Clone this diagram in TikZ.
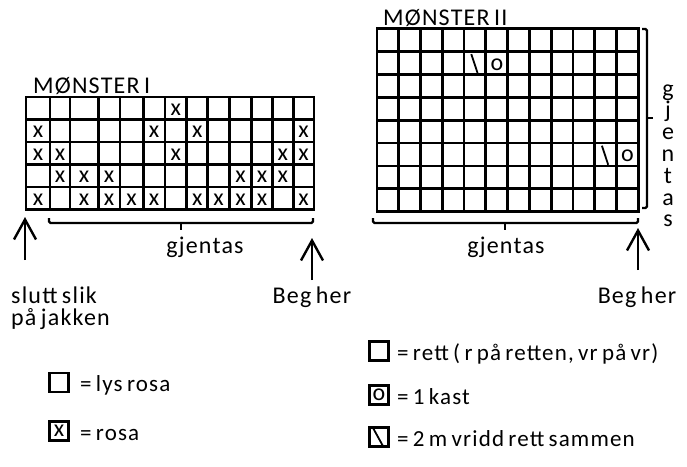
\documentclass[tikz,border=0pt]{standalone}
\usepackage{fontspec}
\setmainfont{Carlito}[LetterSpace=5,WordSpace=0.68]
\usetikzlibrary{arrows.meta}
\begin{document}
\begin{tikzpicture}[x=1pt,y=-1pt,
  every node/.style={font=\fontsize{24}{26}\selectfont, inner sep=0pt},
  gridline/.style={line width=2.8pt, line cap=rect},
  brace/.style={line width=2.2pt, rounded corners=1.5pt},
  uparrow/.style={line width=2.4pt, -{Straight Barb[length=20pt,width=22pt]}},
  mk/.style={anchor=center},
  lbl/.style={anchor=base west},
  cbl/.style={anchor=base},
  keytext/.style={anchor=base west, font=\fontsize{23}{25}\selectfont},
  keybox/.style={draw, line width=2.8pt, minimum width=19pt, minimum height=19pt, anchor=center},
  slash/.style={line width=1.8pt},
  ]
\useasboundingbox (0,0) rectangle (687,466);

% ---------- MONSTER I ----------
\node[lbl] (t1) at (33,93) {MØNSTER I};
\foreach \yy in {97,119.5,142,164.5,187,209.5}
  \draw[gridline] (26,\yy) -- (314,\yy);
\foreach \xx in {26,50,70,98.3,120,143.3,165,186.7,207.7,229.3,251.7,272.3,293.3,314}
  \draw[gridline] (\xx,97) -- (\xx,209.5);
\foreach \r/\c in {0/6,
                   1/0,1/5,1/7,1/12,
                   2/0,2/1,2/6,2/11,2/12,
                   3/1,3/2,3/3,3/9,3/10,3/11,
                   4/0,4/2,4/3,4/4,4/5,4/7,4/8,4/9,4/10,4/12}{
  \pgfmathsetmacro{\xc}{{38,60,84.15,109.15,131.65,154.15,175.85,197.2,218.5,240.5,262,282.8,303.65}[\c]}
  \pgfmathsetmacro{\yc}{109.5+22.5*\r}
  \node[mk] (m1-\r-\c) at (\xc,\yc) {x};
}
% brace I
\coordinate (b1l) at (49,218);
\coordinate (b1r) at (313,218);
\coordinate (b1m) at (181,223);
\draw[brace] (b1l) -- (49,223) -- (313,223) -- (b1r);
\draw[brace] (b1m) -- (181,229.5);
\node[cbl] (g1) at (205,253) {gjentas};
% arrows I
\coordinate (a1tip) at (25,217);
\coordinate (a1base) at (25,260);
\draw[uparrow] (a1base) -- (a1tip);
\coordinate (a2tip) at (312,238);
\coordinate (a2base) at (312,280);
\draw[uparrow] (a2base) -- (a2tip);
\node[lbl] (s1) at (11,303) {slutt slik};
\node[lbl] (s2) at (11,325) {på jakken};
\node[cbl] (beg1) at (312,303) {Beg her};

% ---------- MONSTER II ----------
\node[lbl] (t2) at (383,25) {MØNSTER II};
\foreach \j in {0,...,8}{
  \pgfmathsetmacro{\yy}{28.5+22.9*\j}
  \draw[gridline] (377,\yy) -- (638.2,\yy);
}
\foreach \i in {0,...,12}{
  \pgfmathsetmacro{\xx}{377+21.767*\i}
  \draw[gridline] (\xx,28.5) -- (\xx,211.7);
}
% symbols in II
\draw[slash] (471.3,54.1) -- (477.6,73.2);
\node[mk] (o1) at (497,64.5) {o};
\draw[slash] (601.9,145.7) -- (608.2,164.8);
\node[mk] (o2) at (627.4,156) {o};
% right bracket
\coordinate (rbt) at (642,29);
\coordinate (rbb) at (642,208);
\draw[brace] (rbt) -- (647,29) -- (647,208) -- (rbb);
\draw[brace] (647,118) -- (653,118);
\foreach \ch [count=\k from 0] in {g,j,e,n,t,a,s}{
  \pgfmathsetmacro{\yb}{96+21.8*\k}
  \node[cbl] (v\k) at (668,\yb) {\ch};
}
% bottom brace II
\coordinate (b2l) at (373,218);
\coordinate (b2r) at (638,218);
\draw[brace] (b2l) -- (373,223) -- (638,223) -- (b2r);
\draw[brace] (505,223) -- (505,229.5);
\node[cbl] (g2) at (506,253) {gjentas};
\coordinate (a3tip) at (638,228);
\coordinate (a3base) at (638,270);
\draw[uparrow] (a3base) -- (a3tip);
\node[cbl] (beg2) at (637,303) {Beg her};

% ---------- LEGENDS ----------
\node[keybox] (k1) at (59,382.5) {};
\node[keytext] (k1t) at (80,391) {= lys rosa};
\node[keybox] (k2) at (59,431) {x};
\node[keytext] (k2t) at (80,440) {= rosa};

\node[keybox] (k3) at (379,351) {};
\node[keytext] (k3t) at (397,360) {= rett ( r på retten, vr på vr)};
\node[keybox] (k4) at (379,395) {o};
\node[keytext] (k4t) at (397,404) {= 1 kast};
\node[keybox] (k5) at (379,437) {};
\draw[slash] ([xshift=5pt,yshift=-2pt]k5.north west) -- ([xshift=-7pt,yshift=2pt]k5.south east);
\node[keytext] (k5t) at (397,446) {= 2 m vridd rett sammen};
\end{tikzpicture}
\end{document}
